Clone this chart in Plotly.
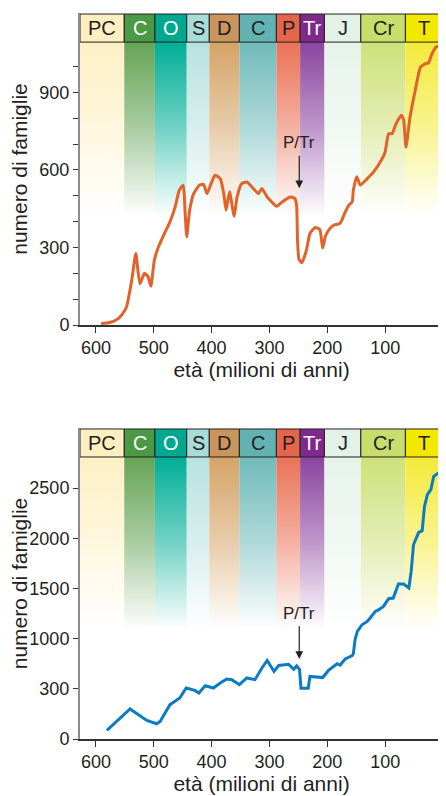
import plotly.graph_objects as go

# ---------------- data ----------------
periods = ["PC", "C", "O", "S", "D", "C", "P", "Tr", "J", "Cr", "T"]
bounds = [627.5, 551, 498, 443, 404, 352, 288, 247, 205, 142, 65, 0]
header_colors = ["#FDEFC1", "#4B9944", "#00A890", "#A8DCD8", "#C9955C", "#62B2B2",
                 "#E5654A", "#7E2A8C", "#E3F2E7", "#C7DD6C", "#F2E800"]
grad_colors = ["#FEF0C4", "#65A456", "#00AE96", "#B8E2DF", "#D4A467", "#70BABA",
               "#EA7257", "#8B44A0", "#E5F3EA", "#CEE07A", "#F4EA3A"]
text_colors = ["#231F20", "#FFFFFF", "#FFFFFF", "#231F20", "#231F20", "#231F20",
               "#231F20", "#FFFFFF", "#231F20", "#231F20", "#231F20"]

top_age = [591, 578, 570, 560, 555, 547, 538, 531, 524, 516, 510, 505, 499, 492, 483,
           472, 463, 456, 449, 446, 443, 438, 431, 421, 414, 408, 400, 394, 385, 379,
           375, 369, 361, 356, 348, 339, 328, 319, 313, 304, 296, 288, 278, 264, 256,
           253, 251.5, 249, 244, 236, 230, 221, 213, 208, 203, 196, 189, 178, 169, 163,
           157, 155, 149, 143, 131, 120, 105, 100, 94, 88, 81, 72, 68, 64, 57, 48, 39,
           31, 25, 19, 12, 2]
top_fam = [6, 9, 14, 28, 40, 71, 174, 277, 160, 200, 188, 150, 251, 302, 347,
           399, 457, 521, 541, 444, 341, 444, 508, 541, 544, 508, 553, 579, 566, 508,
           444, 515, 421, 495, 547, 553, 528, 508, 528, 495, 476, 459, 476, 495, 489,
           460, 328, 255, 241, 290, 354, 377, 370, 298, 345, 372, 386, 393, 437, 463,
           476, 521, 573, 541, 566, 592, 644, 669, 740, 740, 779, 811, 792, 688, 804, 907, 997,
           1010, 1014, 1049, 1075, 1081]

bot_age = [581, 541, 512, 495, 489, 472, 455, 444, 429, 422, 411, 397, 385, 374, 365,
           352, 339, 325, 313, 304, 292, 284, 267, 258, 253, 248, 245.5, 233, 230, 208,
           198, 183, 178, 169, 157, 155, 152, 148, 140, 131, 126, 117, 111, 103, 94,
           86, 77, 68, 59, 55, 51, 42, 36, 32, 27, 21, 16, 8, 0]
bot_fam = [86, 299, 185, 152, 175, 342, 408, 508, 484, 458, 531, 508, 558, 598, 591,
           541, 608, 591, 707, 783, 673, 733, 745, 695, 728, 692, 505, 505, 623, 612,
           683, 750, 735, 797, 830, 850, 990, 1072, 1138, 1171, 1205, 1271, 1288, 1321, 1397,
           1404, 1544, 1544, 1504, 1669, 1935, 2058, 2075, 2317, 2433, 2483, 2616, 2649, 2682]

top_ticks = [0, 100, 200, 300, 400, 500, 600, 700, 800, 900, 1000]
top_ticktext = ["0", "", "", "300", "", "", "600", "", "", "900", ""]
bot_ticks = [0, 500, 1000, 1500, 2000, 2500]
bot_ticktext = ["0", "300", "1000", "1500", "2000", "2500"]
x_ticks = [600, 500, 400, 300, 200, 100, 0]

# ---------------- figure ----------------
FONT = "Liberation Sans, Arial, Helvetica, sans-serif"
TXT = "#231F20"


def rgba(h, a):
    h = h.lstrip("#")
    r, g, b = int(h[0:2], 16), int(h[2:4], 16), int(h[4:6], 16)
    return f"rgba({r},{g},{b},{a})"


fig = go.Figure()

panels = [
    # xaxis, yaxis, grad bottom, header bottom, header top
    ("x", "y", 417, 1094, 1202.5),
    ("x2", "y2", 1086, 2809, 3088),
]

for xa, ya, g0, h0, h1 in panels:
    for i, p in enumerate(periods):
        x0, x1 = bounds[i], bounds[i + 1]
        c = grad_colors[i]
        fig.add_trace(go.Scatter(
            x=[x0, x1, x1, x0, x0], y=[g0, g0, h0, h0, g0],
            mode="lines", fill="toself",
            line=dict(width=0, color="rgba(0,0,0,0)"),
            fillgradient=dict(type="vertical",
                              colorscale=[[0, rgba(c, 0)], [0.5, rgba(c, 0.55)], [1, rgba(c, 1)]]),
            hoverinfo="skip", showlegend=False, xaxis=xa, yaxis=ya))
        fig.add_shape(type="rect", xref=xa, yref=ya, x0=x0, x1=x1, y0=h0, y1=h1,
                      fillcolor=header_colors[i], line=dict(color="#231F20", width=1), layer="above")
        fig.add_annotation(xref=xa, yref=ya, x=(x0 + x1) / 2, y=(h0 + h1) / 2, text=p,
                           showarrow=False, font=dict(family=FONT, size=20, color=text_colors[i]))

fig.add_trace(go.Scatter(x=top_age, y=top_fam, mode="lines",
                         line=dict(color="#E0632A", width=3, shape="spline", smoothing=0.5),
                         showlegend=False, xaxis="x", yaxis="y"))
fig.add_trace(go.Scatter(x=bot_age, y=bot_fam, mode="lines",
                         line=dict(color="#0B7CC4", width=3),
                         showlegend=False, xaxis="x2", yaxis="y2"))

# P/Tr arrows
fig.add_annotation(xref="x", yref="y", axref="x", ayref="y", x=248.5, y=529, ax=248.5, ay=705,
                   text="P/Tr", showarrow=True, arrowhead=2, arrowsize=1.3, arrowwidth=1.2,
                   arrowcolor=TXT, standoff=0, startstandoff=2,
                   font=dict(family=FONT, size=17, color=TXT))
fig.add_annotation(xref="x2", yref="y2", axref="x2", ayref="y2", x=248.5, y=797, ax=248.5, ay=1253,
                   text="P/Tr", showarrow=True, arrowhead=2, arrowsize=1.3, arrowwidth=1.2,
                   arrowcolor=TXT, standoff=0, startstandoff=2,
                   font=dict(family=FONT, size=17, color=TXT))

xaxis_common = dict(
    range=[627.5, 0], tickvals=x_ticks, ticktext=[str(v) for v in x_ticks],
    ticks="outside", ticklen=6, tickcolor="#333", tickwidth=1,
    showline=True, linecolor="#333", linewidth=1.5, showgrid=False, zeroline=False,
    tickfont=dict(family=FONT, size=18, color=TXT), ticklabeloverflow="allow",
    automargin=False,
    title=dict(text="età (milioni di anni)", font=dict(family=FONT, size=21, color=TXT), standoff=2),
)
yaxis_common = dict(
    ticks="outside", ticklen=5, tickcolor="#333", tickwidth=1,
    showline=True, linecolor="#8C8C8C", linewidth=2, mirror=True,
    showgrid=False, zeroline=False, automargin=False,
    tickfont=dict(family=FONT, size=18, color=TXT),
    title=dict(text="numero di famiglie", font=dict(family=FONT, size=21, color=TXT), standoff=6),
)

# the page body has an 8px default margin, so the figure is 8px smaller
fig.update_layout(
    width=438, height=788,
    margin=dict(l=72, r=3, t=5, b=57),
    paper_bgcolor="white", plot_bgcolor="white",
    xaxis=dict(**xaxis_common, domain=[0, 1], anchor="y"),
    yaxis=dict(**yaxis_common, domain=[0.5702, 1], range=[0, 1206.5],
               tickvals=top_ticks, ticktext=top_ticktext, anchor="x"),
    xaxis2=dict(**xaxis_common, domain=[0, 1], anchor="y2"),
    yaxis2=dict(**yaxis_common, domain=[0, 0.4284], range=[0, 3098],
                tickvals=bot_ticks, ticktext=bot_ticktext, anchor="x2"),
    showlegend=False,
)

fig.write_html("out.html")
